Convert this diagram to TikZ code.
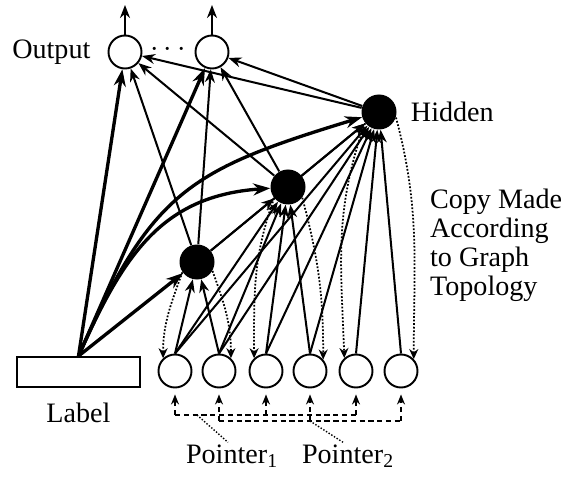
\documentclass[tikz,border=0pt]{standalone}
\usepackage{fontspec}
\setmainfont{Liberation Serif}
\usepackage{tikz}
\usetikzlibrary{positioning,arrows.meta}
\tikzset{
  >={Stealth[length=2.6mm,width=2mm]},
  outu/.style={circle,draw,line width=1.1pt,minimum size=6.6mm,inner sep=0pt},
  inu/.style={circle,draw,line width=1.1pt,minimum size=6.6mm,inner sep=0pt},
  hidu/.style={circle,fill=black,minimum size=7mm,inner sep=0pt},
  labelbox/.style={draw,line width=1.1pt,minimum width=24.6mm,minimum height=6mm,
    inner sep=0pt},
  txt/.style={font=\fontsize{16}{16.4}\selectfont,inner sep=1pt},
  thickw/.style={-{Stealth[length=3.4mm,width=2.4mm]},line width=1.9pt},
  thinw/.style={->,line width=1.15pt},
  copyw/.style={-{Stealth[open,length=2mm,width=1.8mm]},line width=1pt,
    densely dotted},
  ptrw/.style={-{Stealth[length=2mm,width=1.6mm]},line width=0.9pt,densely dashed},
  ptrbus/.style={line width=0.9pt,densely dashed},
  ptrlead/.style={line width=0.8pt,densely dotted},
}
\begin{document}
\begin{tikzpicture}[x=0.2mm,y=0.2mm]
  \useasboundingbox (0,0) rectangle (575,478);
  \node[outu] (o1) at (125,426) {};
  \node[outu] (o2) at (212,426) {};
  \node[txt,left=3mm of o1] (outtxt) {Output};
  \node[txt] (dots) at (168,428) {$\cdots$};
  \node[hidu] (h1) at (197,216) {};
  \node[hidu] (h2) at (288,291) {};
  \node[hidu] (h3) at (379,366) {};
  \node[txt,right=2.4mm of h3] (hidtxt) {Hidden};
  \node[labelbox] (lab) at (78.5,106) {};
  \node[txt,below=2.6mm of lab] (labtxt) {Label};
  \foreach \x [count=\i] in {175,219,266,310,356,401}
    \node[inu] (i\i) at (\x,107) {};
  \node[txt,align=left,anchor=north west] (copytxt) at (428,291)
    {Copy Made\\According\\to Graph\\Topology};
  \node[txt] (ptr1) at (232,22) {Pointer\textsubscript{1}};
  \node[txt] (ptr2) at (348,22) {Pointer\textsubscript{2}};

  \coordinate (up1) at (125,473);
  \coordinate (up2) at (212,473);
  \draw[thinw] (o1) -- (up1);
  \draw[thinw] (o2) -- (up2);

  \draw[thickw] (lab.north) -- (o1);
  \draw[thickw] (lab.north) -- (o2);
  \draw[thickw] (lab.north) -- (h1);
  \draw[thickw] (lab.north) to[out=66,in=184,looseness=1.1] (h2);
  \draw[thickw] (lab.north) to[out=66,in=197,looseness=1.25] (h3);

  \foreach \h in {h1,h2,h3} {
    \draw[thinw] (\h) -- (o1);
    \draw[thinw] (\h) -- (o2);
  }
  \draw[thinw] (h1) -- (h2);
  \draw[thinw] (h1) -- (h3);
  \draw[thinw] (h2) -- (h3);

  \foreach \i in {1,2} \draw[thinw] (i\i.north) -- (h1);
  \foreach \i in {1,...,4} \draw[thinw] (i\i.north) -- (h2);
  \foreach \i in {1,...,6} \draw[thinw] (i\i.north) -- (h3);

  \draw[copyw] (h1.215) to[out=250,in=90] (i1.133);
  \draw[copyw] (h1.330) to[out=290,in=90] (i2.47);
  \draw[copyw] (h2.219) to[out=250,in=90] (i3.133);
  \draw[copyw] (h2.323) to[out=285,in=90] (i4.41);
  \draw[copyw] (h3.219) to[out=250,in=92] (i5.132);
  \draw[copyw] (h3.342) to[out=285,in=90] (i6.43);

  \coordinate (bus1) at (0,63);
  \coordinate (bus2) at (0,57);
  \foreach \i in {1,3,5} \coordinate (p\i) at (i\i |- bus1);
  \foreach \i in {2,4,6} \coordinate (p\i) at (i\i |- bus2);
  \foreach \i in {1,...,6} \draw[ptrw,shorten >=1.2mm] (p\i) -- (i\i);
  \draw[ptrbus] (p1) -- (p5);
  \draw[ptrbus] (p2) -- (p6);
  \coordinate (t1) at (197,63);
  \coordinate (t2) at (310,57);
  \draw[ptrlead] (t1) -- ([xshift=-0.8mm]ptr1.north);
  \draw[ptrlead] (t2) -- ([xshift=-1mm]ptr2.north);
\end{tikzpicture}
\end{document}
